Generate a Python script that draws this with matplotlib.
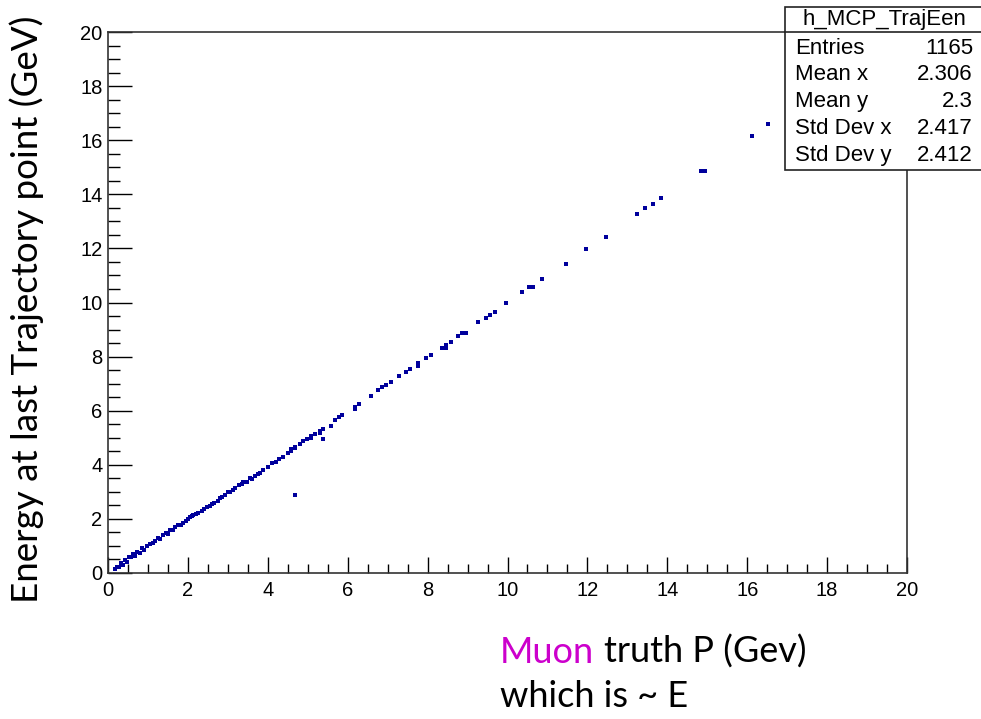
import numpy as np
import matplotlib
matplotlib.use("Agg")
import matplotlib.pyplot as plt
from matplotlib.patches import Rectangle

# truth P (GeV) vs energy at last trajectory point (GeV)
p_truth = [0.22, 0.33, 0.43, 0.53, 0.63, 0.73, 0.84, 0.97, 1.05, 1.18,
           1.26, 1.37, 1.45, 1.55, 1.68, 1.76, 1.87, 1.95, 2.05, 2.14,
           2.26, 2.35, 2.47, 2.55, 2.66, 2.75, 2.85, 2.93, 3.01, 3.12,
           3.18, 3.29, 3.39, 3.47, 3.60, 3.68, 3.80, 3.89, 4.00, 4.11,
           4.20, 4.28, 4.37, 4.50, 4.58, 4.59, 4.69, 4.69, 4.80, 4.87,
           4.97, 5.08, 5.08, 5.19, 5.30, 5.30, 5.37, 5.37, 5.58, 5.69,
           5.79, 5.86, 6.19, 6.19, 6.29, 6.58, 6.76, 6.86, 6.97, 7.08,
           7.29, 7.47, 7.57, 7.76, 7.76, 7.97, 8.08, 8.36, 8.46, 8.46,
           8.58, 8.75, 8.86, 8.96, 9.25, 9.47, 9.57, 9.68, 9.96, 10.36,
           10.55, 10.65, 10.86, 11.46, 11.96, 12.46, 13.24, 13.45, 13.63, 13.84,
           14.84, 14.94, 16.12, 16.51, 4.68,
           # second row of the dense band at low energy
           0.18, 0.27, 0.38, 0.47, 0.58, 0.68, 0.80, 0.90, 1.12, 1.30,
           1.50, 1.62, 1.82, 2.00, 2.10, 2.20, 2.40, 2.60, 2.80, 3.05,
           3.35, 3.55, 3.75]
e_traj = [0.23, 0.36, 0.48, 0.60, 0.70, 0.79, 0.91, 1.00, 1.07, 1.19,
          1.28, 1.40, 1.47, 1.59, 1.69, 1.77, 1.86, 1.93, 2.06, 2.14,
          2.23, 2.30, 2.43, 2.48, 2.60, 2.67, 2.80, 2.88, 3.01, 3.07,
          3.15, 3.25, 3.36, 3.36, 3.46, 3.59, 3.69, 3.81, 3.93, 4.05,
          4.12, 4.21, 4.30, 4.42, 4.51, 4.57, 4.66, 4.61, 4.77, 4.87,
          4.97, 5.08, 4.99, 5.13, 5.24, 5.16, 5.34, 4.97, 5.45, 5.66,
          5.76, 5.85, 6.14, 6.07, 6.24, 6.54, 6.77, 6.86, 6.96, 7.07,
          7.28, 7.44, 7.54, 7.75, 7.65, 7.96, 8.07, 8.33, 8.42, 8.33,
          8.55, 8.76, 8.86, 8.86, 9.28, 9.44, 9.55, 9.65, 9.97, 10.39,
          10.56, 10.56, 10.86, 11.43, 11.97, 12.43, 13.28, 13.49, 13.65, 13.86,
          14.86, 14.86, 16.17, 16.60, 2.88,
          0.16, 0.22, 0.30, 0.40, 0.58, 0.64, 0.74, 0.86, 1.10, 1.25,
          1.45, 1.60, 1.78, 1.98, 2.12, 2.18, 2.36, 2.55, 2.76, 3.00,
          3.28, 3.50, 3.66]

stat_names = ["Entries", "Mean x", "Mean y", "Std Dev x", "Std Dev y"]
stat_values = ["1165", "2.306", "2.3", "2.417", "2.412"]

W, H = 981, 719
def fx(px):
    return px / W
def fy(py):
    return 1 - py / H

fig = plt.figure(figsize=(W / 100, H / 100), dpi=100)
ax = fig.add_axes([fx(108), fy(573), fx(907) - fx(108), fy(32) - fy(573)])

ax.plot(p_truth, e_traj, ls="none", marker="s", ms=2.5, mew=0, color="#00009c")

ax.set_xlim(0, 20)
ax.set_ylim(0, 20)
ax.set_xticks(np.arange(0, 21, 2))
ax.set_yticks(np.arange(0, 21, 2))
ax.set_xticks(np.arange(0, 20.01, 0.5), minor=True)
ax.set_yticks(np.arange(0, 20.01, 0.5), minor=True)
ax.tick_params(axis="x", which="major", direction="in", length=11.5, width=1, pad=6)
ax.tick_params(axis="x", which="minor", direction="in", length=6.5, width=1)
ax.tick_params(axis="y", which="major", direction="in", length=17, width=1, pad=4)
ax.tick_params(axis="y", which="minor", direction="in", length=8.5, width=1)
for lab in ax.get_xticklabels() + ax.get_yticklabels():
    lab.set_fontfamily("Liberation Sans")
    lab.set_fontsize(14.5)
for s in ax.spines.values():
    s.set_linewidth(1.2)
    s.set_color("#333333")

# axis titles (slide text)
fig.text(fx(27), fy(309), "Energy at last Trajectory point (GeV)", rotation=90,
         ha="center", va="center", fontsize=26.5, family="Lato")
t1 = fig.text(fx(500), fy(663), "Muon", color="#cc00cc", fontsize=26,
              family="Lato", va="baseline")
fig.canvas.draw()
bb = t1.get_window_extent()
fig.text((bb.x1 + 10) / W, fy(663), "truth P (Gev)", fontsize=26,
         family="Lato", va="baseline")
fig.text(fx(500), fy(707), "which is ~ E", fontsize=26, family="Lato",
         va="baseline")

# stats box
box = Rectangle((fx(785), fy(170)), fx(990) - fx(785), fy(7) - fy(170),
                transform=fig.transFigure, facecolor="white",
                edgecolor="#222222", lw=1.2, zorder=5)
fig.add_artist(box)
fig.add_artist(plt.Line2D([fx(785), fx(990)], [fy(32), fy(32)],
                          transform=fig.transFigure, color="#222222", lw=1.2,
                          zorder=6))
fig.text(fx(884), fy(20), "h_MCP_TrajEen", ha="center", va="center",
         fontsize=16, family="Liberation Sans", zorder=7)
for i, (n, v) in enumerate(zip(stat_names, stat_values)):
    y = 48 + i * 26.8
    fig.text(fx(795), fy(y), n, ha="left", va="center", fontsize=16,
             family="Liberation Sans", zorder=7)
    fig.text(fx(973), fy(y), v, ha="right", va="center", fontsize=16,
             family="Liberation Sans", zorder=7)

fig.savefig("out.png", dpi=100)
